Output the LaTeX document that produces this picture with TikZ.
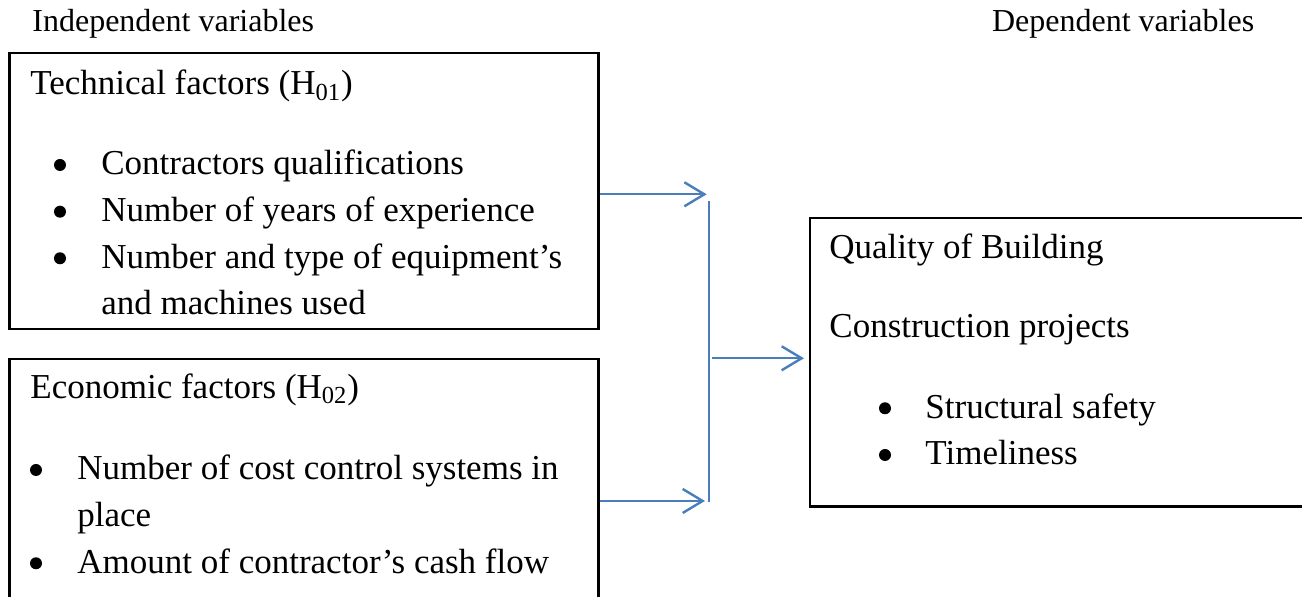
\documentclass[tikz,border=0pt]{standalone}
\usepackage{fontspec}
\setmainfont{Liberation Serif}
\usepackage{xcolor}
\usetikzlibrary{positioning,arrows.meta}
\definecolor{linkblue}{RGB}{74,126,187}

\begin{document}
\begin{tikzpicture}[x=0.5pt, y=-0.5pt,
    box/.style={draw=black, line width=1.25pt, rectangle, anchor=north west, inner sep=0pt},
    txt/.style={anchor=base west, inner sep=0pt, font=\fontsize{17.5}{21}\selectfont},
    hdr/.style={anchor=base west, inner sep=0pt, font=\fontsize{16}{19}\selectfont},
    dot/.style={circle, fill=black, inner sep=0pt, minimum size=6pt},
    flow/.style={draw=linkblue, line width=1.2pt, -{Straight Barb[length=10pt, width=12pt]}}]
  \useasboundingbox (0,0) rectangle (1302,597);
  \clip (0,0) rectangle (1302,597);
  % headings
  \node[hdr] (indep) at (32,31.7) {Independent variables};
  \node[hdr] (dep) at (991.7,31.7) {Dependent variables};
  % boxes
  \node[box, minimum width=294.5pt, minimum height=138pt] (tech) at (8,51.7) {};
  \node[box, minimum width=294.5pt, minimum height=150pt] (econ) at (8,357.7) {};
  \node[box, minimum width=252pt, minimum height=144.2pt] (qual) at (808.7,216.7) {};
  % technical factors
  \node[txt] (techhead) at (30,95) {Technical factors (H\textsubscript{01})};
  \node[dot] (tb1) at (60,165) {};
  \node[txt] (tech1) at (101,175) {Contractors qualifications};
  \node[dot] (tb2) at (60,211.7) {};
  \node[txt] (tech2) at (101,221.7) {Number of years of experience};
  \node[dot] (tb3) at (60,258.3) {};
  \node[txt] (tech3) at (101,268.3) {Number and type of equipment’s};
  \node[txt] (tech4) at (101,315) {and machines used};
  % economic factors
  \node[txt] (econhead) at (30,398.3) {Economic factors (H\textsubscript{02})};
  \node[dot] (eb1) at (36,470) {};
  \node[txt] (econ1) at (77,480) {Number of cost control systems in};
  \node[txt] (econ2) at (77,526.7) {place};
  \node[dot] (eb2) at (36,563.3) {};
  \node[txt] (econ3) at (77,573.3) {Amount of contractor’s cash flow};
  % quality of building
  \node[txt] (qualhead) at (829,258.3) {Quality of Building};
  \node[txt] (qual1) at (829,338) {Construction projects};
  \node[dot] (qb1) at (885,408.3) {};
  \node[txt] (qual2) at (925,418.3) {Structural safety};
  \node[dot] (qb2) at (885,455) {};
  \node[txt] (qual3) at (925,465) {Timeliness};
  % connectors
  \coordinate (jtop) at (706.7,194.3);
  \coordinate (jbot) at (705,501);
  \coordinate (vtop) at (708.7,201);
  \coordinate (vbot) at (708.7,501.7);
  \coordinate (jmid) at (712,358.3);
  \coordinate (jtip) at (804,358.3);
  \draw[flow] (tech.east |- jtop) -- (jtop);
  \draw[flow] (econ.east |- jbot) -- (jbot);
  \draw[draw=linkblue, line width=1.2pt] (vtop) -- (vbot);
  \draw[flow] (jmid) -- (jtip);
\end{tikzpicture}
\end{document}
